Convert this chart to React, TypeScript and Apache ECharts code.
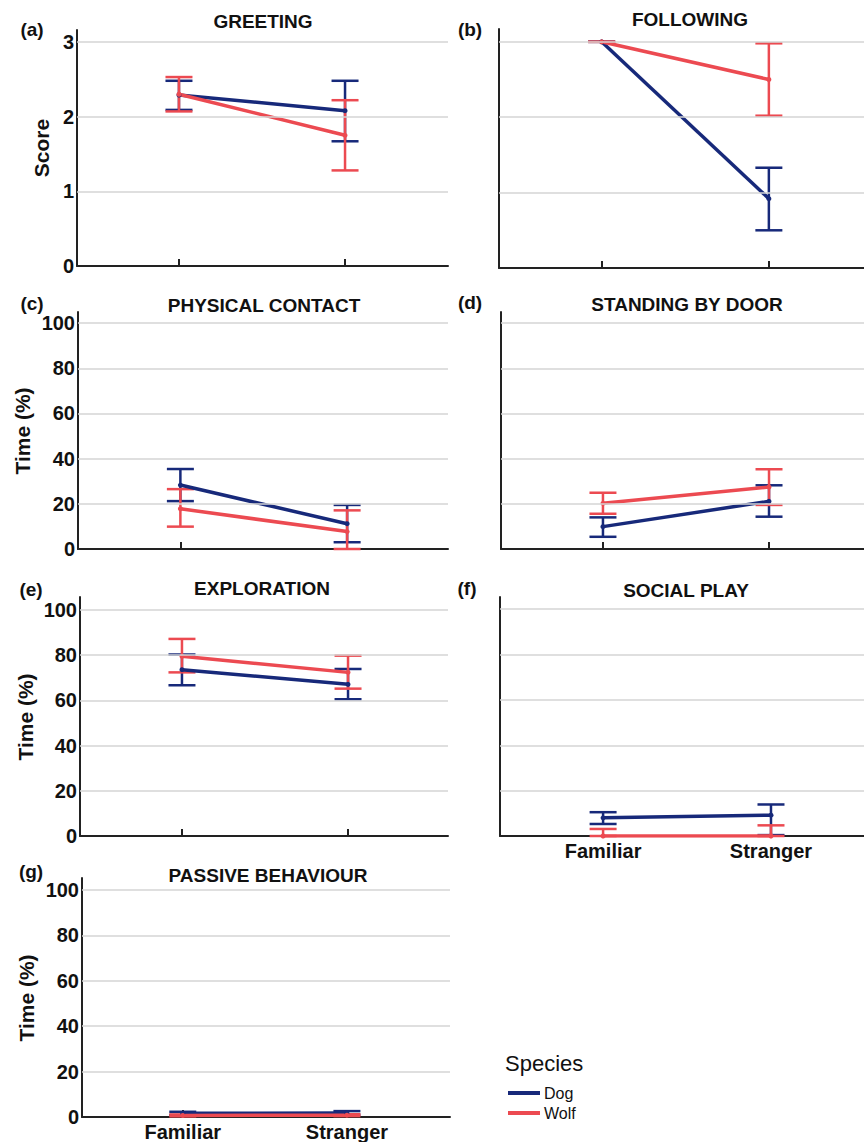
import React, { useEffect, useRef } from 'react';
import * as echarts from 'echarts';

// ---------- DATA ----------
const conditions = ['Familiar', 'Stranger'];
const conditionPos = [0, 1];
const speciesNames = ['Dog', 'Wolf'];

const scoreTicks = [0, 1, 2, 3];
const timeTicks = [0, 20, 40, 60, 80, 100];

// (a) GREETING (score)
const greetingDogMean = [2.29, 2.08];
const greetingDogLow = [2.09, 1.67];
const greetingDogHigh = [2.48, 2.48];
const greetingWolfMean = [2.3, 1.75];
const greetingWolfLow = [2.07, 1.28];
const greetingWolfHigh = [2.53, 2.22];

// (b) FOLLOWING (score)
const followingDogMean = [3.0, 0.92];
const followingDogLow = [3.0, 0.5];
const followingDogHigh = [3.0, 1.33];
const followingWolfMean = [3.0, 2.5];
const followingWolfLow = [3.0, 2.02];
const followingWolfHigh = [3.0, 2.98];

// (c) PHYSICAL CONTACT (time %)
const contactDogMean = [28.3, 11.2];
const contactDogLow = [21.2, 3.0];
const contactDogHigh = [35.4, 19.5];
const contactWolfMean = [17.8, 7.7];
const contactWolfLow = [9.9, 0];
const contactWolfHigh = [26.5, 17.1];

// (d) STANDING BY DOOR (time %)
const doorDogMean = [9.9, 21.1];
const doorDogLow = [5.4, 14.3];
const doorDogHigh = [14.0, 28.2];
const doorWolfMean = [20.2, 27.4];
const doorWolfLow = [15.6, 19.5];
const doorWolfHigh = [24.9, 35.3];

// (e) EXPLORATION (time %)
const exploreDogMean = [73.6, 67.1];
const exploreDogLow = [66.7, 60.5];
const exploreDogHigh = [80.3, 73.9];
const exploreWolfMean = [79.5, 72.4];
const exploreWolfLow = [72.4, 65.2];
const exploreWolfHigh = [87.2, 79.8];

// (f) SOCIAL PLAY (time %)
const playDogMean = [8.0, 9.2];
const playDogLow = [5.3, 0.4];
const playDogHigh = [10.5, 13.9];
const playWolfMean = [0, 0];
const playWolfLow = [0, 0];
const playWolfHigh = [3.1, 4.7];

// (g) PASSIVE BEHAVIOUR (time %)
const passiveDogMean = [1.6, 1.8];
const passiveDogLow = [0.9, 1.0];
const passiveDogHigh = [2.3, 2.6];
const passiveWolfMean = [0.7, 0.8];
const passiveWolfLow = [0.3, 0.4];
const passiveWolfHigh = [1.1, 1.2];

// ---------- STYLE / LAYOUT ----------
const DOG = '#17297a';
const WOLF = '#ec4a51';
const AXIS = '#222222';
const GRIDLINE = '#d4d4d4';
const TEXT = '#111111';
const FONT = '"Liberation Sans", Arial, Helvetica, sans-serif';

const panels = [
  { letter: '(a)', title: 'GREETING', yName: 'Score', ticks: scoreTicks, yMax: 3.16,
    dog: [greetingDogMean, greetingDogLow, greetingDogHigh], wolf: [greetingWolfMean, greetingWolfLow, greetingWolfHigh],
    grid: { left: 77, top: 30, width: 371, height: 236 }, xMax: 1.62, showY: true, showX: false,
    titlePos: [263, 21], letterPos: [32, 29], yNamePos: [41, 148] },
  { letter: '(b)', title: 'FOLLOWING', yName: '', ticks: scoreTicks, yMax: 3.17,
    dog: [followingDogMean, followingDogLow, followingDogHigh], wolf: [followingWolfMean, followingWolfLow, followingWolfHigh],
    grid: { left: 499, top: 29, width: 365, height: 239 }, xMax: 1.569, showY: false, showX: false,
    titlePos: [690, 19], letterPos: [470, 29], yNamePos: null },
  { letter: '(c)', title: 'PHYSICAL CONTACT', yName: 'Time (%)', ticks: timeTicks, yMax: 104.9,
    dog: [contactDogMean, contactDogLow, contactDogHigh], wolf: [contactWolfMean, contactWolfLow, contactWolfHigh],
    grid: { left: 78, top: 312, width: 370, height: 237 }, xMax: 1.605, showY: true, showX: false,
    titlePos: [264, 305], letterPos: [32, 303], yNamePos: [22, 431] },
  { letter: '(d)', title: 'STANDING BY DOOR', yName: '', ticks: timeTicks, yMax: 104.9,
    dog: [doorDogMean, doorDogLow, doorDogHigh], wolf: [doorWolfMean, doorWolfLow, doorWolfHigh],
    grid: { left: 501, top: 312, width: 363, height: 237 }, xMax: 1.572, showY: false, showX: false,
    titlePos: [687, 304], letterPos: [470, 302], yNamePos: null },
  { letter: '(e)', title: 'EXPLORATION', yName: 'Time (%)', ticks: timeTicks, yMax: 105.75,
    dog: [exploreDogMean, exploreDogLow, exploreDogHigh], wolf: [exploreWolfMean, exploreWolfLow, exploreWolfHigh],
    grid: { left: 80, top: 597, width: 368, height: 239 }, xMax: 1.602, showY: true, showX: false,
    titlePos: [262, 588], letterPos: [31, 589], yNamePos: [25, 717] },
  { letter: '(f)', title: 'SOCIAL PLAY', yName: '', ticks: timeTicks, yMax: 105.4,
    dog: [playDogMean, playDogLow, playDogHigh], wolf: [playWolfMean, playWolfLow, playWolfHigh],
    grid: { left: 500, top: 597, width: 364, height: 239 }, xMax: 1.554, showY: false, showX: true,
    titlePos: [686, 590], letterPos: [467, 588], yNamePos: null },
  { letter: '(g)', title: 'PASSIVE BEHAVIOUR', yName: 'Time (%)', ticks: timeTicks, yMax: 105.3,
    dog: [passiveDogMean, passiveDogLow, passiveDogHigh], wolf: [passiveWolfMean, passiveWolfLow, passiveWolfHigh],
    grid: { left: 82, top: 878, width: 368, height: 239 }, xMax: 1.628, showY: true, showX: true,
    titlePos: [268, 875], letterPos: [31, 871], yNamePos: [26, 998] },
];

const X_MIN = -0.614;

function renderErrorBar(params: any, api: any) {
  const x = api.value(0);
  const lo = api.value(1);
  const hi = api.value(2);
  const pLo = api.coord([x, lo]);
  const pHi = api.coord([x, hi]);
  const hw = 13.5;
  const style = { stroke: api.visual('color'), lineWidth: 2.5, fill: 'none' };
  return {
    type: 'group',
    children: [
      { type: 'line', shape: { x1: pLo[0], y1: pLo[1], x2: pHi[0], y2: pHi[1] }, style },
      { type: 'line', shape: { x1: pLo[0] - hw, y1: pLo[1], x2: pLo[0] + hw, y2: pLo[1] }, style },
      { type: 'line', shape: { x1: pHi[0] - hw, y1: pHi[1], x2: pHi[0] + hw, y2: pHi[1] }, style },
    ],
  };
}

function buildOption() {
  const grids: any[] = [];
  const xAxes: any[] = [];
  const yAxes: any[] = [];
  const series: any[] = [];
  const graphics: any[] = [];

  panels.forEach((p, i) => {
    grids.push({ ...p.grid, containLabel: false });
    xAxes.push({
      gridIndex: i,
      type: 'value',
      min: X_MIN,
      max: p.xMax,
      axisLine: { show: true, onZero: false, lineStyle: { color: AXIS, width: 2 } },
      axisTick: { show: true, inside: true, length: 7, customValues: conditionPos, lineStyle: { color: AXIS, width: 2 } },
      splitLine: { show: false },
      axisLabel: {
        show: p.showX,
        customValues: conditionPos,
        formatter: (v: number) => conditions[Math.round(v)] ?? '',
        fontSize: 20,
        fontWeight: 'bold',
        fontFamily: FONT,
        color: TEXT,
        margin: 5,
      },
    });
    yAxes.push({
      gridIndex: i,
      type: 'value',
      min: 0,
      max: p.yMax,
      axisLine: { show: true, onZero: false, lineStyle: { color: AXIS, width: 2 } },
      axisTick: { show: false },
      splitLine: { show: false },
      axisLabel: {
        show: p.showY,
        customValues: p.ticks,
        fontSize: 20,
        fontWeight: 'bold',
        fontFamily: FONT,
        color: TEXT,
        margin: 3,
      },
    });

    // gridlines
    series.push({
      type: 'line',
      name: 'grid' + i,
      xAxisIndex: i,
      yAxisIndex: i,
      data: conditionPos.map((x) => [x, 0]),
      showSymbol: false,
      lineStyle: { opacity: 0 },
      silent: true,
      z: 1,
      markLine: {
        silent: true,
        symbol: 'none',
        label: { show: false },
        lineStyle: { color: GRIDLINE, width: 1.5, type: 'solid' },
        data: p.ticks.filter((v) => v > 0).map((v) => ({ yAxis: v })),
      },
    });

    const groups = [
      { name: speciesNames[0], color: DOG, vals: p.dog },
      { name: speciesNames[1], color: WOLF, vals: p.wolf },
    ];
    groups.forEach((g) => {
      series.push({
        type: 'custom',
        name: g.name,
        xAxisIndex: i,
        yAxisIndex: i,
        color: g.color,
        itemStyle: { color: g.color },
        renderItem: renderErrorBar,
        encode: { x: 0, y: [1, 2] },
        data: conditionPos.map((x, k) => [x, g.vals[1][k], g.vals[2][k]]),
        z: 2,
        silent: true,
      });
    });
    groups.forEach((g) => {
      series.push({
        type: 'line',
        name: g.name,
        xAxisIndex: i,
        yAxisIndex: i,
        color: g.color,
        data: conditionPos.map((x, k) => [x, g.vals[0][k]]),
        lineStyle: { color: g.color, width: 3.5 },
        itemStyle: { color: g.color },
        symbol: 'circle',
        symbolSize: 5,
        showSymbol: true,
        z: 3,
      });
    });

    graphics.push({
      type: 'text',
      x: p.titlePos[0],
      y: p.titlePos[1],
      style: { text: p.title, fontSize: 19, fontWeight: 'bold', fontFamily: FONT, fill: TEXT, textAlign: 'center', textVerticalAlign: 'middle' },
    });
    graphics.push({
      type: 'text',
      x: p.letterPos[0],
      y: p.letterPos[1],
      style: { text: p.letter, fontSize: 19, fontWeight: 'bold', fontFamily: FONT, fill: TEXT, textAlign: 'center', textVerticalAlign: 'middle' },
    });
    if (p.yNamePos) {
      graphics.push({
        type: 'text',
        x: p.yNamePos[0],
        y: p.yNamePos[1],
        rotation: Math.PI / 2,
        style: { text: p.yName, fontSize: 21, fontWeight: 'bold', fontFamily: FONT, fill: TEXT, textAlign: 'center', textVerticalAlign: 'middle' },
      });
    }
  });

  graphics.push({
    type: 'text',
    x: 505,
    y: 1063,
    style: { text: 'Species', fontSize: 22, fontFamily: FONT, fill: TEXT, textAlign: 'left', textVerticalAlign: 'middle' },
  });

  return {
    animation: false,
    backgroundColor: '#ffffff',
    grid: grids,
    xAxis: xAxes,
    yAxis: yAxes,
    series,
    graphic: graphics,
    legend: {
      data: speciesNames,
      orient: 'vertical',
      left: 508,
      top: 1085,
      icon: 'rect',
      itemWidth: 32,
      itemHeight: 4,
      itemGap: 4,
      selectedMode: false,
      textStyle: { fontSize: 16, lineHeight: 16, fontFamily: FONT, color: TEXT, padding: [0, 0, 0, -1] },
      padding: 0,
    },
  };
}

export default function App() {
  const ref = useRef<HTMLDivElement>(null);
  useEffect(() => {
    document.body.style.margin = '0';
    if (!ref.current) return;
    const chart = echarts.init(ref.current, undefined, { renderer: 'svg' });
    chart.setOption(buildOption() as any);
    return () => {
      chart.dispose();
    };
  }, []);
  return <div ref={ref} style={{ width: 864, height: 1142, background: '#fff' }} />;
}
